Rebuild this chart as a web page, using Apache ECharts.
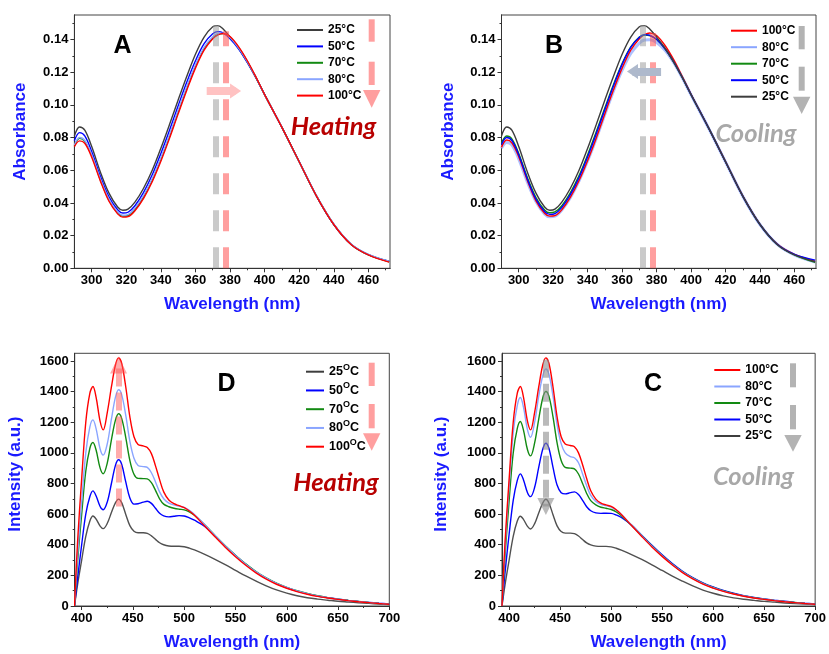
<!DOCTYPE html>
<html>
<head>
<meta charset="utf-8">
<script src="https://cdn.jsdelivr.net/npm/echarts@6/dist/echarts.min.js"></script>
<style>
html, body { margin: 0; padding: 0; background: #ffffff; }
#main { width: 829px; height: 654px; }
</style>
</head>
<body>
<div id="main"></div>
<script>
// ---------- Absorbance spectra (nm, absorbance) ----------
const absWavelengths = [290, 293, 296, 300, 305, 310, 315, 318, 321, 325, 330, 335, 340, 345, 350, 355, 360, 365, 370, 373, 376, 380, 385, 390, 395, 400, 410, 420, 430, 440, 450, 460, 472];

// A: heating
const absHeat25 = [0.0810, 0.0865, 0.0845, 0.0745, 0.0590, 0.0460, 0.0375, 0.0355, 0.0362, 0.0405, 0.0490, 0.0600, 0.0735, 0.0880, 0.1030, 0.1175, 0.1310, 0.1415, 0.1478, 0.1485, 0.1465, 0.1415, 0.1345, 0.1260, 0.1165, 0.1063, 0.0862, 0.0652, 0.0442, 0.0268, 0.0146, 0.0082, 0.0042];
const absHeat50 = [0.0780, 0.0830, 0.0810, 0.0715, 0.0565, 0.0438, 0.0358, 0.0338, 0.0343, 0.0383, 0.0465, 0.0572, 0.0703, 0.0845, 0.0995, 0.1140, 0.1270, 0.1375, 0.1435, 0.1448, 0.1440, 0.1405, 0.1342, 0.1260, 0.1166, 0.1063, 0.0862, 0.0652, 0.0442, 0.0268, 0.0147, 0.0084, 0.0043];
const absHeat70 = [0.0750, 0.0795, 0.0777, 0.0690, 0.0542, 0.0417, 0.0338, 0.0319, 0.0323, 0.0360, 0.0437, 0.0540, 0.0666, 0.0806, 0.0956, 0.1101, 0.1235, 0.1343, 0.1410, 0.1432, 0.1436, 0.1414, 0.1350, 0.1267, 0.1168, 0.1063, 0.0862, 0.0652, 0.0443, 0.0269, 0.0147, 0.0083, 0.0040];
const absHeat80 = [0.0755, 0.0800, 0.0782, 0.0695, 0.0548, 0.0422, 0.0344, 0.0325, 0.0329, 0.0368, 0.0446, 0.0550, 0.0677, 0.0818, 0.0968, 0.1113, 0.1245, 0.1352, 0.1417, 0.1437, 0.1438, 0.1412, 0.1348, 0.1265, 0.1168, 0.1063, 0.0863, 0.0654, 0.0445, 0.0271, 0.0149, 0.0085, 0.0044];
const absHeat100 = [0.0745, 0.0780, 0.0765, 0.0680, 0.0535, 0.0410, 0.0333, 0.0313, 0.0316, 0.0352, 0.0428, 0.0530, 0.0655, 0.0795, 0.0945, 0.1090, 0.1225, 0.1335, 0.1405, 0.1428, 0.1437, 0.1418, 0.1355, 0.1270, 0.1170, 0.1063, 0.0862, 0.0652, 0.0442, 0.0268, 0.0146, 0.0082, 0.0038];

// B: cooling
const absCool100 = [0.0740, 0.0785, 0.0768, 0.0683, 0.0538, 0.0413, 0.0337, 0.0319, 0.0322, 0.0358, 0.0435, 0.0537, 0.0660, 0.0798, 0.0946, 0.1092, 0.1225, 0.1335, 0.1405, 0.1430, 0.1440, 0.1425, 0.1362, 0.1275, 0.1172, 0.1065, 0.0863, 0.0653, 0.0443, 0.0269, 0.0148, 0.0085, 0.0042];
const absCool80 = [0.0735, 0.0770, 0.0755, 0.0670, 0.0528, 0.0408, 0.0333, 0.0315, 0.0319, 0.0357, 0.0434, 0.0535, 0.0658, 0.0795, 0.0942, 0.1085, 0.1212, 0.1314, 0.1378, 0.1397, 0.1398, 0.1382, 0.1333, 0.1258, 0.1164, 0.1061, 0.0861, 0.0651, 0.0441, 0.0267, 0.0146, 0.0082, 0.0038];
const absCool70 = [0.0765, 0.0810, 0.0792, 0.0703, 0.0556, 0.0433, 0.0357, 0.0340, 0.0345, 0.0383, 0.0463, 0.0567, 0.0695, 0.0835, 0.0982, 0.1125, 0.1253, 0.1355, 0.1415, 0.1428, 0.1424, 0.1400, 0.1342, 0.1262, 0.1166, 0.1062, 0.0862, 0.0652, 0.0442, 0.0268, 0.0146, 0.0082, 0.0036];
const absCool50 = [0.0757, 0.0800, 0.0782, 0.0695, 0.0547, 0.0423, 0.0347, 0.0330, 0.0335, 0.0373, 0.0452, 0.0556, 0.0684, 0.0824, 0.0972, 0.1117, 0.1248, 0.1352, 0.1414, 0.1430, 0.1426, 0.1401, 0.1342, 0.1262, 0.1166, 0.1063, 0.0862, 0.0652, 0.0442, 0.0268, 0.0147, 0.0085, 0.0050];
const absCool25 = [0.0810, 0.0865, 0.0845, 0.0745, 0.0590, 0.0460, 0.0375, 0.0355, 0.0362, 0.0405, 0.0490, 0.0600, 0.0735, 0.0880, 0.1030, 0.1175, 0.1310, 0.1415, 0.1478, 0.1485, 0.1465, 0.1415, 0.1345, 0.1260, 0.1165, 0.1063, 0.0862, 0.0652, 0.0442, 0.0268, 0.0146, 0.0082, 0.0040];

// ---------- Emission spectra (nm, intensity) ----------
const emWavelengths = [393, 396, 400, 404, 408, 411, 414, 418, 421, 425, 429, 433, 436, 439, 443, 447, 451, 455, 460, 464, 468, 472, 476, 480, 485, 490, 495, 500, 505, 510, 520, 530, 540, 550, 560, 570, 580, 590, 600, 610, 620, 630, 640, 650, 660, 670, 680, 690, 700];

// D: heating
const emHeat25 = [0, 140, 300, 455, 555, 588, 568, 522, 505, 540, 610, 675, 698, 675, 598, 525, 488, 478, 478, 474, 458, 435, 413, 400, 392, 390, 390, 387, 378, 366, 337, 305, 270, 233, 196, 163, 132, 105, 84, 67, 54, 45, 38, 31, 26, 21, 17, 13, 10];
const emHeat50 = [0, 180, 400, 600, 715, 752, 720, 650, 628, 680, 800, 920, 955, 925, 810, 705, 665, 668, 678, 684, 670, 638, 605, 588, 582, 586, 590, 588, 576, 560, 520, 458, 392, 330, 273, 222, 180, 146, 119, 97, 80, 65, 54, 45, 37, 30, 24, 18, 13];
const emHeat70 = [0, 290, 600, 880, 1030, 1068, 1020, 900, 864, 935, 1085, 1215, 1255, 1225, 1100, 950, 860, 833, 832, 830, 805, 755, 700, 665, 648, 638, 632, 628, 614, 592, 530, 461, 394, 332, 275, 225, 183, 149, 122, 100, 82, 67, 55, 45, 37, 30, 23, 17, 12];
const emHeat80 = [0, 330, 680, 1000, 1170, 1215, 1160, 1025, 985, 1060, 1220, 1365, 1412, 1380, 1245, 1075, 965, 918, 910, 905, 870, 810, 745, 700, 672, 660, 652, 644, 625, 598, 530, 460, 392, 330, 273, 223, 182, 148, 121, 99, 81, 66, 54, 44, 36, 29, 23, 17, 12];
const emHeat100 = [0, 420, 830, 1200, 1390, 1433, 1365, 1205, 1150, 1265, 1430, 1575, 1620, 1585, 1430, 1235, 1105, 1055, 1045, 1035, 995, 915, 825, 745, 692, 668, 655, 642, 620, 592, 522, 452, 384, 322, 266, 216, 175, 142, 116, 94, 77, 63, 52, 43, 35, 28, 22, 16, 11];

// C: cooling
const emCool100 = [0, 420, 830, 1200, 1390, 1433, 1365, 1205, 1150, 1265, 1430, 1575, 1620, 1585, 1430, 1235, 1105, 1058, 1048, 1040, 1000, 922, 832, 752, 698, 672, 660, 650, 628, 598, 525, 454, 386, 324, 268, 218, 177, 143, 117, 95, 78, 64, 52, 43, 35, 28, 22, 16, 11];
const emCool80 = [0, 380, 780, 1130, 1310, 1361, 1300, 1150, 1102, 1200, 1370, 1505, 1547, 1515, 1370, 1185, 1060, 1000, 975, 968, 935, 862, 785, 722, 683, 664, 655, 646, 626, 598, 528, 458, 390, 328, 271, 221, 180, 146, 119, 97, 79, 65, 53, 44, 36, 29, 22, 16, 11];
const emCool70 = [0, 330, 690, 1000, 1160, 1205, 1150, 1020, 980, 1065, 1220, 1360, 1401, 1370, 1235, 1065, 950, 905, 900, 895, 862, 800, 735, 688, 660, 645, 638, 630, 614, 590, 527, 459, 392, 330, 273, 223, 182, 148, 121, 99, 81, 66, 54, 44, 36, 29, 23, 17, 12];
const emCool50 = [0, 220, 470, 690, 820, 863, 825, 740, 714, 775, 905, 1025, 1063, 1030, 905, 790, 740, 732, 740, 745, 728, 690, 648, 622, 608, 605, 606, 605, 594, 578, 528, 462, 396, 334, 277, 227, 185, 151, 124, 101, 83, 68, 56, 46, 38, 31, 24, 18, 13];
const emCool25 = [0, 140, 300, 455, 555, 586, 566, 520, 503, 538, 608, 673, 697, 673, 596, 523, 486, 476, 476, 473, 457, 434, 412, 399, 391, 389, 389, 386, 377, 365, 336, 304, 269, 232, 195, 162, 131, 104, 83, 66, 53, 44, 37, 30, 25, 20, 16, 12, 9];

// ---------- Axis ticks ----------
const absXTicks = [300, 320, 340, 360, 380, 400, 420, 440, 460];
const absXMinor = [310, 330, 350, 370, 390, 410, 430, 450, 470];
const absYTicks = [0, 0.02, 0.04, 0.06, 0.08, 0.10, 0.12, 0.14];
const absYMinor = [0.01, 0.03, 0.05, 0.07, 0.09, 0.11, 0.13, 0.15];
const emXTicks = [400, 450, 500, 550, 600, 650, 700];
const emXMinor = [425, 475, 525, 575, 625, 675];
const emYTicks = [0, 200, 400, 600, 800, 1000, 1200, 1400, 1600];
const emYMinor = [100, 300, 500, 700, 900, 1100, 1300, 1500];

// ---------- Legend entries ----------
const tempsHeating = ['25°C', '50°C', '70°C', '80°C', '100°C'];
const tempsCooling = ['100°C', '80°C', '70°C', '50°C', '25°C'];

// ---------- Peak markers ----------
const absPeakCold = 372;     // peak position at 25 °C
const absPeakHot = 377.5;    // peak position at 100 °C
const emMainPeak = 436;      // main emission band

const COLORS = {
  '25°C': '#3d3d3d',
  '50°C': '#0000ff',
  '70°C': '#128a12',
  '80°C': '#8aa5ff',
  '100°C': '#ff0000'
};
const FONT = 'Liberation Sans, Arial, sans-serif';
const AXIS_BLUE = '#1a1aff';

const pairs = (xs, ys) => xs.map((x, i) => [x, ys[i]]);

function curve(name, xs, ys, grid, opts) {
  opts = opts || {};
  return {
    type: 'line', name: name,
    xAxisIndex: grid * 2, yAxisIndex: grid * 2,
    data: pairs(xs, ys),
    smooth: 0.35, showSymbol: false, symbol: 'none',
    color: opts.color || COLORS[name],
    lineStyle: { width: opts.width || 1.4, color: opts.color || COLORS[name] },
    silent: true, animation: false, z: 3
  };
}

const grids = [
  { left: 74.4, top: 15, width: 315.6, height: 253.3 },   // A
  { left: 501.5, top: 15, width: 314.5, height: 253.3 },  // B
  { left: 74.7, top: 353.3, width: 314.6, height: 252.7 },// D
  { left: 502, top: 353.3, width: 314.7, height: 252.7 }  // C
].map(g => Object.assign({ show: true, borderColor: '#444', borderWidth: 1, backgroundColor: 'transparent' }, g));

const xAxes = [], yAxes = [];
function addAxes(grid, xr, yr, xt, xm, yt, ym, yFmt, yName, yGap, yPad) {
  const lineStyle = { color: '#333', width: 1 };
  xAxes.push({
    gridIndex: grid, type: 'value', min: xr[0], max: xr[1], position: 'bottom',
    axisLine: { show: true, onZero: false, lineStyle },
    axisTick: { show: true, customValues: xt, length: 4, lineStyle },
    axisLabel: { customValues: xt, color: '#000', fontSize: 13, fontWeight: 'bold', fontFamily: FONT, margin: 6 },
    splitLine: { show: false },
    name: 'Wavelength (nm)', nameLocation: 'middle', nameGap: 28,
    nameTextStyle: { color: AXIS_BLUE, fontSize: 17, fontWeight: 'bold', fontFamily: FONT }
  });
  xAxes.push({
    gridIndex: grid, type: 'value', min: xr[0], max: xr[1], position: 'bottom',
    axisLine: { show: true, onZero: false, lineStyle },
    axisTick: { show: true, customValues: xm, length: 2, lineStyle },
    axisLabel: { show: false }, splitLine: { show: false }
  });
  yAxes.push({
    gridIndex: grid, type: 'value', min: yr[0], max: yr[1], position: 'left',
    axisLine: { show: true, onZero: false, lineStyle },
    axisTick: { show: true, customValues: yt, length: 4, lineStyle },
    axisLabel: { customValues: yt, color: '#000', fontSize: 13, fontWeight: 'bold', fontFamily: FONT, margin: 6, formatter: yFmt },
    splitLine: { show: false },
    name: yName, nameLocation: 'middle', nameGap: yGap,
    nameTextStyle: { color: AXIS_BLUE, fontSize: 17, fontWeight: 'bold', fontFamily: FONT, padding: [0, 0, 0, yPad] }
  });
  yAxes.push({
    gridIndex: grid, type: 'value', min: yr[0], max: yr[1], position: 'left',
    axisLine: { show: true, onZero: false, lineStyle },
    axisTick: { show: true, customValues: ym, length: 2, lineStyle },
    axisLabel: { show: false }, splitLine: { show: false }
  });
}
const absFmt = v => v.toFixed(2);
const emFmt = v => String(Math.round(v));
addAxes(0, [290, 472.5], [0, 0.155], absXTicks, absXMinor, absYTicks, absYMinor, absFmt, 'Absorbance', 46, 20);
addAxes(1, [290, 472.5], [0, 0.155], absXTicks, absXMinor, absYTicks, absYMinor, absFmt, 'Absorbance', 45, 20);
addAxes(2, [393.2, 700], [0, 1650], emXTicks, emXMinor, emYTicks, emYMinor, emFmt, 'Intensity (a.u.)', 51, 11);
addAxes(3, [393, 700], [0, 1650], emXTicks, emXMinor, emYTicks, emYMinor, emFmt, 'Intensity (a.u.)', 52, 11);

// ---------- Curves ----------
const series = [
  curve('25°C', absWavelengths, absHeat25, 0),
  curve('50°C', absWavelengths, absHeat50, 0),
  curve('70°C', absWavelengths, absHeat70, 0),
  curve('80°C', absWavelengths, absHeat80, 0),
  curve('100°C', absWavelengths, absHeat100, 0),

  curve('80°C', absWavelengths, absCool80, 1, { width: 3, color: '#adc0ff' }),
  curve('100°C', absWavelengths, absCool100, 1),
  curve('70°C', absWavelengths, absCool70, 1),
  curve('50°C', absWavelengths, absCool50, 1),
  curve('25°C', absWavelengths, absCool25, 1),

  curve('25°C', emWavelengths, emHeat25, 2, { color: '#505050' }),
  curve('50°C', emWavelengths, emHeat50, 2),
  curve('70°C', emWavelengths, emHeat70, 2),
  curve('80°C', emWavelengths, emHeat80, 2),
  curve('100°C', emWavelengths, emHeat100, 2),

  curve('25°C', emWavelengths, emCool25, 3, { color: '#505050' }),
  curve('50°C', emWavelengths, emCool50, 3),
  curve('70°C', emWavelengths, emCool70, 3),
  curve('80°C', emWavelengths, emCool80, 3),
  curve('100°C', emWavelengths, emCool100, 3)
];

// ---------- Peak-shift guides and arrows ----------
const GREY_DASH = 'rgba(150,150,150,0.5)';
const RED_DASH = 'rgba(255,80,80,0.55)';
function guide(grid, lines) {
  return {
    type: 'line', xAxisIndex: grid * 2, yAxisIndex: grid * 2, data: [], silent: true, animation: false, z: 5,
    markLine: { silent: true, animation: false, symbol: 'none', label: { show: false }, emphasis: { disabled: true }, data: lines }
  };
}
const vDash = (x, y0, y1, color, dash) => [
  { coord: [x, y0], lineStyle: { color, width: 6, type: dash } },
  { coord: [x, y1] }
];
const arrow = (p0, p1, color, width, head) => [
  { coord: p0, symbol: 'none', lineStyle: { color, width, type: 'solid' } },
  { coord: p1, symbol: 'triangle', symbolSize: head }
];
const dashArrow = (p0, p1, color, dash, head) => [
  { coord: p0, symbol: 'none', lineStyle: { color, width: 6, type: dash } },
  { coord: p1, symbol: 'triangle', symbolSize: head }
];

series.push(guide(0, [
  vDash(absPeakCold, 0, 0.149, GREY_DASH, [21, 16]),
  vDash(absPeakHot, 0, 0.145, RED_DASH, [21, 16]),
  arrow([366.5, 0.1085], [383.2, 0.1085], '#ffc2c2', 8, [15, 11])
]));
series.push(guide(1, [
  vDash(absPeakCold, 0, 0.149, GREY_DASH, [21, 16]),
  vDash(absPeakHot, 0, 0.144, RED_DASH, [21, 16]),
  arrow([382.6, 0.1205], [366, 0.1205], '#aeb9cc', 8, [15, 11])
]));
series.push(guide(2, [
  dashArrow([emMainPeak, 650], [emMainPeak, 1574], 'rgba(255,90,90,0.5)', [18, 6], [17, 17])
]));
series.push(guide(3, [
  dashArrow([emMainPeak, 1608], [emMainPeak, 650], 'rgba(140,140,140,0.6)', [18, 6], [17, 17])
]));

// ---------- Legends ----------
const legendText = { color: '#000', fontSize: 12, fontWeight: 'bold', fontFamily: FONT, lineHeight: 16 };
const legends = [
  { data: tempsHeating, left: 297, top: 22, itemWidth: 26, itemGap: 0.4, textStyle: legendText },
  { data: tempsCooling, left: 731, top: 22.7, itemWidth: 26, itemGap: 0.5, textStyle: legendText },
  {
    data: tempsHeating, left: 306, top: 362.7, itemWidth: 18, itemGap: 0.75,
    formatter: n => '{n|' + n.replace('°C', '') + '}{s|O}{n|C}',
    textStyle: {
      color: '#000', fontFamily: FONT, fontWeight: 'bold', fontSize: 12.5, lineHeight: 18,
      rich: {
        n: { color: '#000', fontFamily: FONT, fontWeight: 'bold', fontSize: 12.5, lineHeight: 18 },
        s: { color: '#000', fontFamily: FONT, fontWeight: 'bold', fontSize: 9, lineHeight: 10, verticalAlign: 'top' }
      }
    }
  },
  { data: tempsCooling, left: 714.3, top: 362, itemWidth: 26, itemGap: 0.5, textStyle: legendText }
].map(l => Object.assign({ orient: 'vertical', icon: 'rect', itemHeight: 2, selectedMode: false, padding: 0, align: 'left' }, l));

// ---------- Panel letters, captions and trend arrows ----------
const LETTER = { fontSize: 25, fontWeight: 'bold', fontFamily: FONT, fill: '#000', textAlign: 'center', textVerticalAlign: 'middle' };
const CAPTION = { fontSize: 25.5, fontWeight: 'bold', fontStyle: 'italic', fontFamily: 'Lato, Open Sans, sans-serif', textAlign: 'center', textVerticalAlign: 'middle' };
const PINK = 'rgba(255,80,80,0.55)';
const GREY = '#b3b3b3';
function trendArrow(cx, seg1, seg2, tri, color) {
  return [
    { type: 'rect', shape: { x: cx - 3, y: seg1[0], width: 6, height: seg1[1] - seg1[0] }, style: { fill: color }, silent: true },
    { type: 'rect', shape: { x: cx - 3, y: seg2[0], width: 6, height: seg2[1] - seg2[0] }, style: { fill: color }, silent: true },
    { type: 'polygon', shape: { points: [[cx - 8.7, tri[0]], [cx + 8.7, tri[0]], [cx, tri[1]]] }, style: { fill: color }, silent: true }
  ];
}
const graphics = [
  { type: 'text', style: Object.assign({ text: 'A', x: 122.5, y: 46.5 }, LETTER) },
  { type: 'text', style: Object.assign({ text: 'B', x: 554, y: 46.5 }, LETTER) },
  { type: 'text', style: Object.assign({ text: 'D', x: 226.5, y: 384.6 }, LETTER) },
  { type: 'text', style: Object.assign({ text: 'C', x: 653, y: 384.3 }, LETTER) },
  { type: 'text', style: Object.assign({ text: 'Heating', x: 333.5, y: 126.5, fill: '#b80000' }, CAPTION) },
  { type: 'text', style: Object.assign({ text: 'Cooling', x: 756, y: 134, fill: '#a8a8a8' }, CAPTION) },
  { type: 'text', style: Object.assign({ text: 'Heating', x: 336, y: 483, fill: '#b80000' }, CAPTION) },
  { type: 'text', style: Object.assign({ text: 'Cooling', x: 753.5, y: 476.5, fill: '#a8a8a8' }, CAPTION) }
].concat(
  trendArrow(371.7, [19.3, 41.7], [61.7, 85], [90, 107.7], PINK),
  trendArrow(801.7, [26, 49.3], [66.7, 90.7], [96.7, 114], GREY),
  trendArrow(371.7, [362.7, 386], [404, 428.3], [433.3, 450.7], PINK),
  trendArrow(793, [363.3, 387.3], [405, 429.3], [435, 451.7], GREY)
);

const chart = echarts.init(document.getElementById('main'), null, { renderer: 'canvas' });
chart.setOption({
  animation: false,
  backgroundColor: '#ffffff',
  textStyle: { fontFamily: FONT },
  grid: grids,
  xAxis: xAxes,
  yAxis: yAxes,
  legend: legends,
  series: series,
  graphic: graphics
});
</script>
</body>
</html>
